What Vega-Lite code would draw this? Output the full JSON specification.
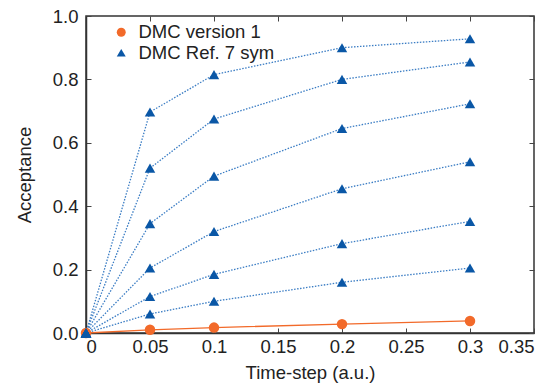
{
  "$schema": "https://vega.github.io/schema/vega-lite/v6.json",
  "width": 448,
  "height": 317,
  "autosize": {"type": "none"},
  "padding": {"left": 86, "top": 16, "right": 24, "bottom": 55},
  "background": "white",
  "config": {
    "font": "Liberation Sans",
    "view": {"stroke": "#333333", "strokeWidth": 1.5},
    "axis": {
      "labelFont": "Liberation Sans",
      "titleFont": "Liberation Sans",
      "labelFontSize": 18.5,
      "titleFontSize": 18.5,
      "labelColor": "#222222",
      "titleColor": "#222222",
      "titleFontWeight": "normal",
      "domainColor": "#333333",
      "domainWidth": 1.5,
      "tickColor": "#444444",
      "tickSize": -5,
      "tickWidth": 1,
      "grid": false
    }
  },
  "data": {
    "values": [
      {"method": "DMC version 1", "curve": 0, "t": 0, "acc": 0},
      {"method": "DMC version 1", "curve": 0, "t": 0.05, "acc": 0.01},
      {"method": "DMC version 1", "curve": 0, "t": 0.1, "acc": 0.017},
      {"method": "DMC version 1", "curve": 0, "t": 0.2, "acc": 0.028},
      {"method": "DMC version 1", "curve": 0, "t": 0.3, "acc": 0.038},
      {"method": "DMC Ref. 7 sym", "curve": 1, "t": 0, "acc": 0},
      {"method": "DMC Ref. 7 sym", "curve": 1, "t": 0.05, "acc": 0.697},
      {"method": "DMC Ref. 7 sym", "curve": 1, "t": 0.1, "acc": 0.815},
      {"method": "DMC Ref. 7 sym", "curve": 1, "t": 0.2, "acc": 0.9},
      {"method": "DMC Ref. 7 sym", "curve": 1, "t": 0.3, "acc": 0.928},
      {"method": "DMC Ref. 7 sym", "curve": 2, "t": 0, "acc": 0},
      {"method": "DMC Ref. 7 sym", "curve": 2, "t": 0.05, "acc": 0.52},
      {"method": "DMC Ref. 7 sym", "curve": 2, "t": 0.1, "acc": 0.675},
      {"method": "DMC Ref. 7 sym", "curve": 2, "t": 0.2, "acc": 0.8},
      {"method": "DMC Ref. 7 sym", "curve": 2, "t": 0.3, "acc": 0.855},
      {"method": "DMC Ref. 7 sym", "curve": 3, "t": 0, "acc": 0},
      {"method": "DMC Ref. 7 sym", "curve": 3, "t": 0.05, "acc": 0.345},
      {"method": "DMC Ref. 7 sym", "curve": 3, "t": 0.1, "acc": 0.495},
      {"method": "DMC Ref. 7 sym", "curve": 3, "t": 0.2, "acc": 0.645},
      {"method": "DMC Ref. 7 sym", "curve": 3, "t": 0.3, "acc": 0.723},
      {"method": "DMC Ref. 7 sym", "curve": 4, "t": 0, "acc": 0},
      {"method": "DMC Ref. 7 sym", "curve": 4, "t": 0.05, "acc": 0.205},
      {"method": "DMC Ref. 7 sym", "curve": 4, "t": 0.1, "acc": 0.32},
      {"method": "DMC Ref. 7 sym", "curve": 4, "t": 0.2, "acc": 0.455},
      {"method": "DMC Ref. 7 sym", "curve": 4, "t": 0.3, "acc": 0.54},
      {"method": "DMC Ref. 7 sym", "curve": 5, "t": 0, "acc": 0},
      {"method": "DMC Ref. 7 sym", "curve": 5, "t": 0.05, "acc": 0.115},
      {"method": "DMC Ref. 7 sym", "curve": 5, "t": 0.1, "acc": 0.185},
      {"method": "DMC Ref. 7 sym", "curve": 5, "t": 0.2, "acc": 0.282},
      {"method": "DMC Ref. 7 sym", "curve": 5, "t": 0.3, "acc": 0.352},
      {"method": "DMC Ref. 7 sym", "curve": 6, "t": 0, "acc": 0},
      {"method": "DMC Ref. 7 sym", "curve": 6, "t": 0.05, "acc": 0.06},
      {"method": "DMC Ref. 7 sym", "curve": 6, "t": 0.1, "acc": 0.1},
      {"method": "DMC Ref. 7 sym", "curve": 6, "t": 0.2, "acc": 0.16},
      {"method": "DMC Ref. 7 sym", "curve": 6, "t": 0.3, "acc": 0.205}
    ]
  },
  "layer": [
    {
      "transform": [{"filter": "datum.method == 'DMC Ref. 7 sym'"}],
      "mark": {"type": "line", "color": "#3b7dc4", "strokeWidth": 1.3, "strokeDash": [1.5, 1.5]},
      "encoding": {
        "x": {"field": "t", "type": "quantitative", "scale": {"domain": [0, 0.35], "nice": false, "zero": false},
              "axis": {"orient": "bottom", "values": [0, 0.05, 0.1, 0.15, 0.2, 0.25, 0.3, 0.35], "format": "~g", "title": "Time-step (a.u.)", "labelPadding": 9, "titlePadding": 8}},
        "y": {"field": "acc", "type": "quantitative", "scale": {"domain": [0, 1], "nice": false},
              "axis": {"orient": "left", "values": [0, 0.2, 0.4, 0.6, 0.8, 1.0], "format": ".1f", "title": "Acceptance", "labelPadding": 13, "titlePadding": 18}},
        "detail": {"field": "curve", "type": "nominal"}
      }
    },
    {
      "transform": [{"filter": "datum.method == 'DMC version 1'"}],
      "mark": {"type": "line", "color": "#f26a2a", "strokeWidth": 1.3},
      "encoding": {
        "x": {"field": "t", "type": "quantitative", "axis": null},
        "y": {"field": "acc", "type": "quantitative", "axis": null}
      }
    },
    {
      "mark": {"type": "point", "filled": true, "opacity": 1, "size": 110},
      "encoding": {
        "x": {"field": "t", "type": "quantitative", "axis": null},
        "y": {"field": "acc", "type": "quantitative", "axis": null},
        "color": {"field": "method", "type": "nominal",
                  "scale": {"domain": ["DMC version 1", "DMC Ref. 7 sym"], "range": ["#f26a2a", "#0a57a6"]},
                  "legend": {"title": null, "orient": "none", "legendX": 26, "legendY": 7, "labelFontSize": 18.5, "labelFont": "Liberation Sans", "labelColor": "#222222", "symbolSize": 80, "rowPadding": 1.5, "labelOffset": 8, "padding": 0, "symbolStrokeWidth": 0}},
        "shape": {"field": "method", "type": "nominal",
                  "scale": {"domain": ["DMC version 1", "DMC Ref. 7 sym"], "range": ["circle", "triangle-up"]},
                  "legend": {"title": null, "orient": "none", "legendX": 26, "legendY": 7, "labelFontSize": 18.5, "labelFont": "Liberation Sans", "labelColor": "#222222", "symbolSize": 80, "rowPadding": 1.5, "labelOffset": 8, "padding": 0, "symbolStrokeWidth": 0}},
        "order": {"field": "curve", "type": "quantitative"}
      }
    },
    {
      "mark": {"type": "point", "opacity": 0},
      "encoding": {
        "x": {"field": "t", "type": "quantitative",
              "axis": {"orient": "top", "values": [0, 0.05, 0.1, 0.15, 0.2, 0.25, 0.3, 0.35], "labels": false, "title": null, "domain": false}},
        "y": {"field": "acc", "type": "quantitative",
              "axis": {"orient": "right", "values": [0, 0.2, 0.4, 0.6, 0.8, 1.0], "labels": false, "title": null, "domain": false}}
      }
    }
  ],
  "resolve": {"axis": {"x": "independent", "y": "independent"}}
}
